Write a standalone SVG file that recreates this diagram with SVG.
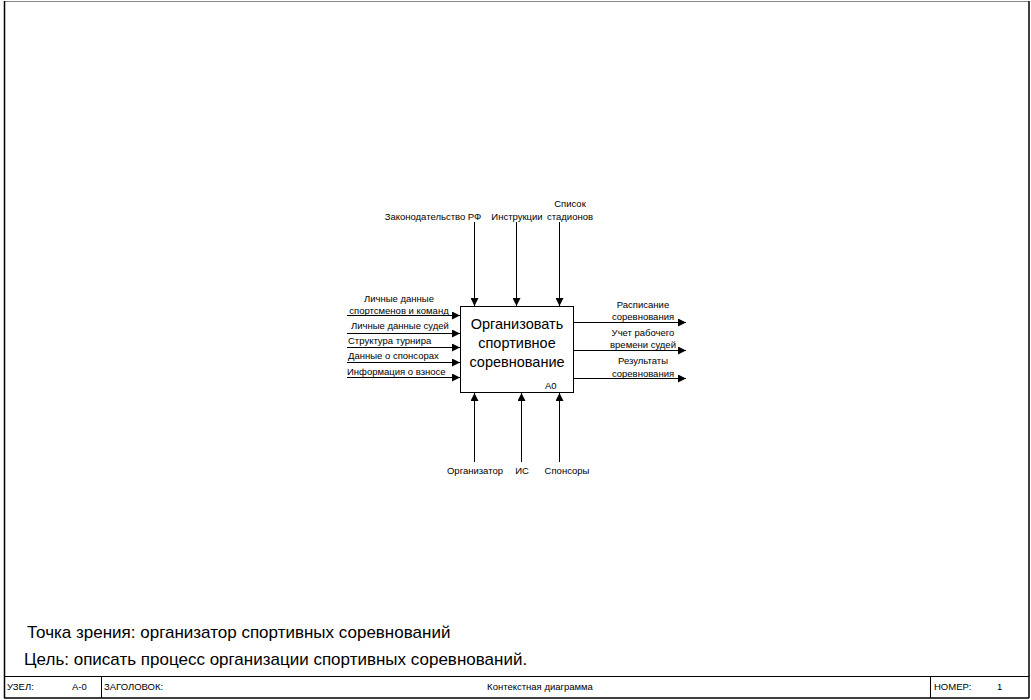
<svg xmlns="http://www.w3.org/2000/svg" width="1031" height="700" viewBox="0 0 1031 700">
  <defs>
    <marker id="arrow" viewBox="0 0 10 10" refX="10" refY="5" markerWidth="9" markerHeight="8" markerUnits="userSpaceOnUse" orient="auto">
      <path d="M0,0 L10,5 L0,10 z" fill="#000"/>
    </marker>
    <style>
      .lbl { font-family: "Liberation Sans", Arial, sans-serif; font-size: 9.5px; fill: #000; }
      .title { font-family: "Liberation Sans", Arial, sans-serif; font-size: 14.5px; fill: #000; }
      .note { font-family: "Liberation Sans", Arial, sans-serif; font-size: 17px; fill: #000; }
      .foot { font-family: "Liberation Sans", Arial, sans-serif; font-size: 9.5px; fill: #000; }
      .arc { fill: none; stroke: #000; stroke-width: 1; marker-end: url(#arrow); }
    </style>
  </defs>

  <rect width="1031" height="700" fill="#fff"/>

  <!-- sheet frame -->
  <g id="sheet">
    <line x1="4" y1="1.5" x2="1029" y2="1.5" stroke="#888" stroke-width="1"/>
    <line x1="4.5" y1="1" x2="4.5" y2="698" stroke="#000" stroke-width="1.5"/>
    <line x1="1029" y1="1" x2="1029" y2="698" stroke="#000" stroke-width="1.5"/>
    <line x1="4" y1="698" x2="1029" y2="698" stroke="#000" stroke-width="1.5"/>
    <line x1="4" y1="676.5" x2="1029" y2="676.5" stroke="#000" stroke-width="1"/>
    <line x1="101.5" y1="676" x2="101.5" y2="698" stroke="#000" stroke-width="1"/>
    <line x1="930.5" y1="676" x2="930.5" y2="698" stroke="#000" stroke-width="1"/>
    <text class="foot" x="7" y="690">УЗЕЛ:</text>
    <text class="foot" x="72" y="690">А-0</text>
    <text class="foot" x="104" y="690">ЗАГОЛОВОК:</text>
    <text class="foot" x="540" y="690" text-anchor="middle">Контекстная диаграмма</text>
    <text class="foot" x="934" y="690">НОМЕР:</text>
    <text class="foot" x="997" y="690">1</text>
  </g>

  <!-- function block -->
  <g id="A0">
    <rect x="460.5" y="306.5" width="113" height="86" fill="#fff" stroke="#000" stroke-width="1"/>
    <text class="title" x="517" y="329" text-anchor="middle">Организовать</text>
    <text class="title" x="517" y="348" text-anchor="middle">спортивное</text>
    <text class="title" x="517" y="367" text-anchor="middle">соревнование</text>
    <text class="lbl" x="545" y="389" font-size="12">А0</text>
  </g>

  <!-- arrows -->
  <g id="connectors">
    <!-- inputs -->
    <line class="arc" x1="347" y1="315.5" x2="460" y2="315.5"/>
    <line class="arc" x1="347" y1="333.5" x2="460" y2="333.5"/>
    <line class="arc" x1="347" y1="347.5" x2="460" y2="347.5"/>
    <line class="arc" x1="347" y1="362.5" x2="460" y2="362.5"/>
    <line class="arc" x1="347" y1="377.5" x2="460" y2="377.5"/>
    <!-- controls -->
    <line class="arc" x1="474.5" y1="222" x2="474.5" y2="306"/>
    <line class="arc" x1="516.5" y1="222" x2="516.5" y2="306"/>
    <line class="arc" x1="559.5" y1="222" x2="559.5" y2="306"/>
    <!-- outputs -->
    <line class="arc" x1="574" y1="322.5" x2="686" y2="322.5"/>
    <line class="arc" x1="574" y1="350.5" x2="686" y2="350.5"/>
    <line class="arc" x1="574" y1="378.5" x2="686" y2="378.5"/>
    <!-- mechanisms -->
    <line class="arc" x1="474.5" y1="462" x2="474.5" y2="393"/>
    <line class="arc" x1="521.5" y1="462" x2="521.5" y2="393"/>
    <line class="arc" x1="559.5" y1="462" x2="559.5" y2="393"/>
  </g>

  <!-- arrow labels -->
  <g id="labels">
    <text class="lbl" x="399" y="302" text-anchor="middle">Личные данные</text>
    <text class="lbl" x="399" y="314" text-anchor="middle">спортсменов и команд</text>
    <text class="lbl" x="400" y="329" text-anchor="middle">Личные данные судей</text>
    <text class="lbl" x="348" y="344">Структура турнира</text>
    <text class="lbl" x="348" y="359">Данные о спонсорах</text>
    <text class="lbl" x="347" y="375">Информация о взносе</text>

    <text class="lbl" x="433" y="220" text-anchor="middle">Законодательство РФ</text>
    <text class="lbl" x="517" y="220" text-anchor="middle">Инструкции</text>
    <text class="lbl" x="570" y="207" text-anchor="middle">Список</text>
    <text class="lbl" x="570" y="220" text-anchor="middle">стадионов</text>

    <text class="lbl" x="643" y="308" text-anchor="middle">Расписание</text>
    <text class="lbl" x="643" y="320" text-anchor="middle">соревнования</text>
    <text class="lbl" x="643" y="336" text-anchor="middle">Учет рабочего</text>
    <text class="lbl" x="643" y="348" text-anchor="middle">времени судей</text>
    <text class="lbl" x="643" y="364" text-anchor="middle">Результаты</text>
    <text class="lbl" x="643" y="377" text-anchor="middle">соревнования</text>

    <text class="lbl" x="475" y="474" text-anchor="middle">Организатор</text>
    <text class="lbl" x="522" y="474" text-anchor="middle">ИС</text>
    <text class="lbl" x="567" y="474" text-anchor="middle">Спонсоры</text>
  </g>

  <!-- notes -->
  <g id="notes">
    <text class="note" x="27" y="638">Точка зрения: организатор спортивных соревнований</text>
    <text class="note" x="24" y="665">Цель: описать процесс организации спортивных соревнований.</text>
  </g>
</svg>
